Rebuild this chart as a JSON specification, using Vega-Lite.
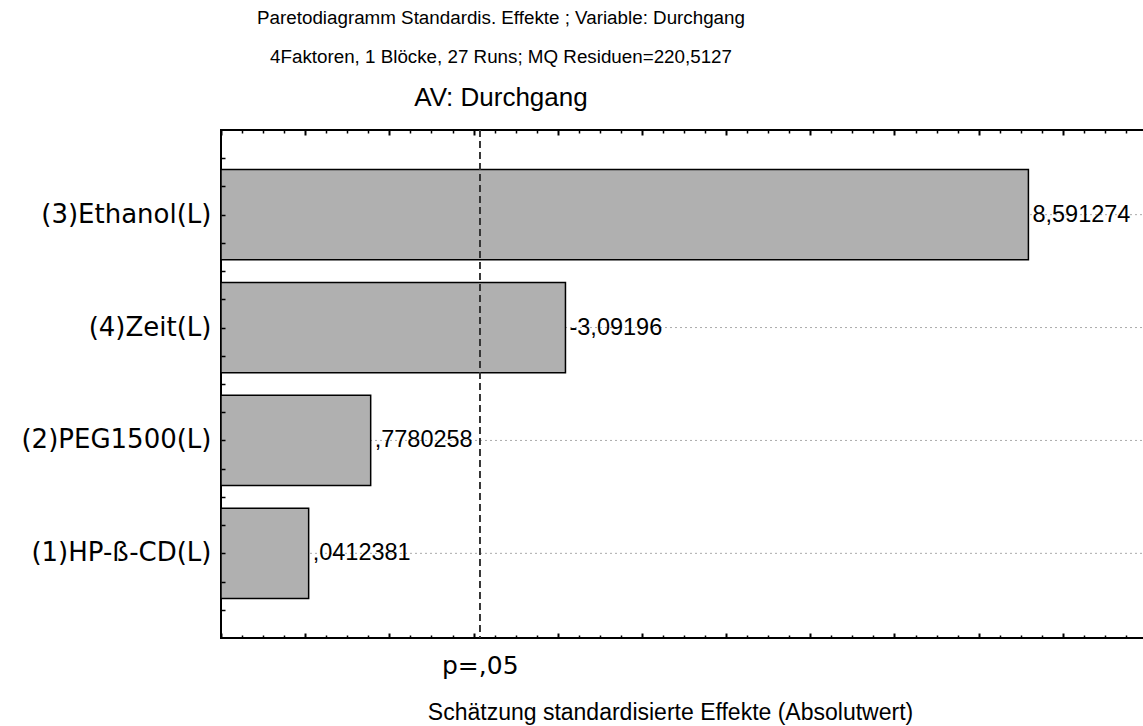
{
  "$schema": "https://vega.github.io/schema/vega-lite/v6.json",
  "width": 926,
  "height": 508,
  "autosize": {"type": "none"},
  "padding": {"left": 221, "top": 130, "right": 0, "bottom": 88},
  "background": "white",
  "config": {
    "view": {"stroke": "black", "strokeWidth": 2},
    "font": "Liberation Sans",
    "axis": {"grid": false}
  },
  "title": {
    "text": ["Paretodiagramm Standardis. Effekte ; Variable: Durchgang", "4Faktoren, 1 Blöcke, 27 Runs; MQ Residuen=220,5127"],
    "subtitle": "AV: Durchgang",
    "font": "Liberation Sans",
    "fontSize": 18.8,
    "fontWeight": "normal",
    "lineHeight": 39,
    "color": "black",
    "subtitleFont": "Liberation Sans",
    "subtitleFontSize": 26,
    "subtitleColor": "black",
    "subtitlePadding": 18,
    "anchor": "middle",
    "dx": -183,
    "offset": 18
  },
  "data": {
    "values": [
      {"Effekt": "(3)Ethanol(L)", "t": 8.591274, "absT": 8.591274, "Label": "8,591274"},
      {"Effekt": "(4)Zeit(L)", "t": -3.09196, "absT": 3.09196, "Label": "-3,09196"},
      {"Effekt": "(2)PEG1500(L)", "t": 0.7780258, "absT": 0.7780258, "Label": ",7780258"},
      {"Effekt": "(1)HP-ß-CD(L)", "t": 0.0412381, "absT": 0.0412381, "Label": ",0412381"}
    ]
  },
  "layer": [
    {
      "mark": {"type": "rule", "color": "#aaaaaa", "strokeDash": [2, 3], "strokeWidth": 1},
      "encoding": {
        "y": {"field": "Effekt", "type": "nominal", "sort": null, "scale": {"type": "band", "paddingInner": 0.2, "paddingOuter": 0.35}, "axis": null}
      }
    },
    {
      "mark": {"type": "bar", "fill": "#b0b0b0", "stroke": "black", "strokeWidth": 1.5},
      "encoding": {
        "y": {
          "field": "Effekt", "type": "nominal", "sort": null,
          "scale": {"type": "band", "paddingInner": 0.2, "paddingOuter": 0.35},
          "axis": {"orient": "left", "ticks": false, "tickSize": 0, "domain": false, "labelFont": "DejaVu Sans", "labelFontSize": 26, "labelColor": "black", "labelPadding": 10, "labelLimit": 400, "title": null}
        },
        "x": {"field": "absT", "type": "quantitative", "scale": {"domain": [-1, 10], "nice": false, "zero": false}, "axis": null},
        "x2": {"datum": -1}
      }
    },
    {
      "mark": {"type": "text", "align": "left", "baseline": "middle", "dx": 4, "fontSize": 23.5, "font": "Liberation Sans", "color": "black"},
      "encoding": {
        "y": {"field": "Effekt", "type": "nominal", "sort": null, "scale": {"type": "band", "paddingInner": 0.2, "paddingOuter": 0.35}, "axis": null},
        "x": {"field": "absT", "type": "quantitative", "scale": {"domain": [-1, 10], "nice": false, "zero": false}, "axis": null},
        "text": {"field": "Label"}
      }
    },
    {
      "mark": {"type": "rule", "color": "#333333", "strokeDash": [7, 4], "strokeWidth": 1.5},
      "encoding": {
        "x": {
          "datum": 2.074, "type": "quantitative",
          "scale": {"domain": [-1, 10], "nice": false, "zero": false},
          "axis": {
            "orient": "bottom", "values": [2.074], "labelExpr": "'p=,05'", "ticks": false, "tickSize": 0, "domain": false,
            "labelFont": "DejaVu Sans", "labelFontSize": 25, "labelColor": "black", "labelPadding": 15,
            "title": "Schätzung standardisierte Effekte (Absolutwert)", "titleFont": "Liberation Sans", "titleFontSize": 23, "titleFontWeight": "normal", "titleColor": "black", "titlePadding": 23, "titleX": 449
          }
        }
      }
    },
    {
      "mark": {"type": "rule", "opacity": 0},
      "encoding": {
        "x": {
          "datum": -1, "type": "quantitative",
          "scale": {"domain": [-1, 10], "nice": false, "zero": false},
          "axis": {"orient": "bottom", "values": [-1, 0, 1, 2, 3, 4, 5, 6, 7, 8, 9, 10], "labels": false, "domain": false, "tickSize": 5, "offset": -5, "tickColor": "black", "tickWidth": 2, "title": null, "zindex": 1}
        }
      }
    },
    {
      "mark": {"type": "rule", "opacity": 0},
      "encoding": {
        "x": {
          "datum": -1, "type": "quantitative",
          "scale": {"domain": [-1, 10], "nice": false, "zero": false},
          "axis": {"orient": "bottom", "values": [-0.75, -0.5, -0.25, 0.25, 0.5, 0.75, 1.25, 1.5, 1.75, 2.25, 2.5, 2.75, 3.25, 3.5, 3.75, 4.25, 4.5, 4.75, 5.25, 5.5, 5.75, 6.25, 6.5, 6.75, 7.25, 7.5, 7.75, 8.25, 8.5, 8.75, 9.25, 9.5, 9.75], "labels": false, "domain": false, "tickSize": 3, "offset": -3, "tickColor": "black", "tickWidth": 1.5, "title": null, "zindex": 1}
        }
      }
    },
    {
      "mark": {"type": "rule", "opacity": 0},
      "encoding": {
        "x": {
          "datum": -1, "type": "quantitative",
          "scale": {"domain": [-1, 10], "nice": false, "zero": false},
          "axis": {"orient": "top", "values": [-1, 0, 1, 2, 3, 4, 5, 6, 7, 8, 9, 10], "labels": false, "domain": false, "tickSize": 5, "offset": -5, "tickColor": "black", "tickWidth": 2, "title": null, "zindex": 1}
        }
      }
    },
    {
      "mark": {"type": "rule", "opacity": 0},
      "encoding": {
        "x": {
          "datum": -1, "type": "quantitative",
          "scale": {"domain": [-1, 10], "nice": false, "zero": false},
          "axis": {"orient": "top", "values": [-0.75, -0.5, -0.25, 0.25, 0.5, 0.75, 1.25, 1.5, 1.75, 2.25, 2.5, 2.75, 3.25, 3.5, 3.75, 4.25, 4.5, 4.75, 5.25, 5.5, 5.75, 6.25, 6.5, 6.75, 7.25, 7.5, 7.75, 8.25, 8.5, 8.75, 9.25, 9.5, 9.75], "labels": false, "domain": false, "tickSize": 3, "offset": -3, "tickColor": "black", "tickWidth": 1.5, "title": null, "zindex": 1}
        }
      }
    },
    {
      "mark": {"type": "rule", "opacity": 0},
      "encoding": {
        "y": {
          "datum": 0, "type": "quantitative",
          "scale": {"domain": [0, 18], "nice": false, "zero": false},
          "axis": {"orient": "left", "values": [1, 2, 3, 4, 5, 6, 7, 8, 9, 10, 11, 12, 13, 14, 15, 16, 17], "labels": false, "domain": false, "grid": false, "tickSize": 4, "offset": -4, "tickColor": "black", "tickWidth": 1.5, "title": null, "zindex": 1}
        }
      }
    }
  ],
  "resolve": {"scale": {"y": "independent"}, "axis": {"x": "independent", "y": "independent"}}
}
